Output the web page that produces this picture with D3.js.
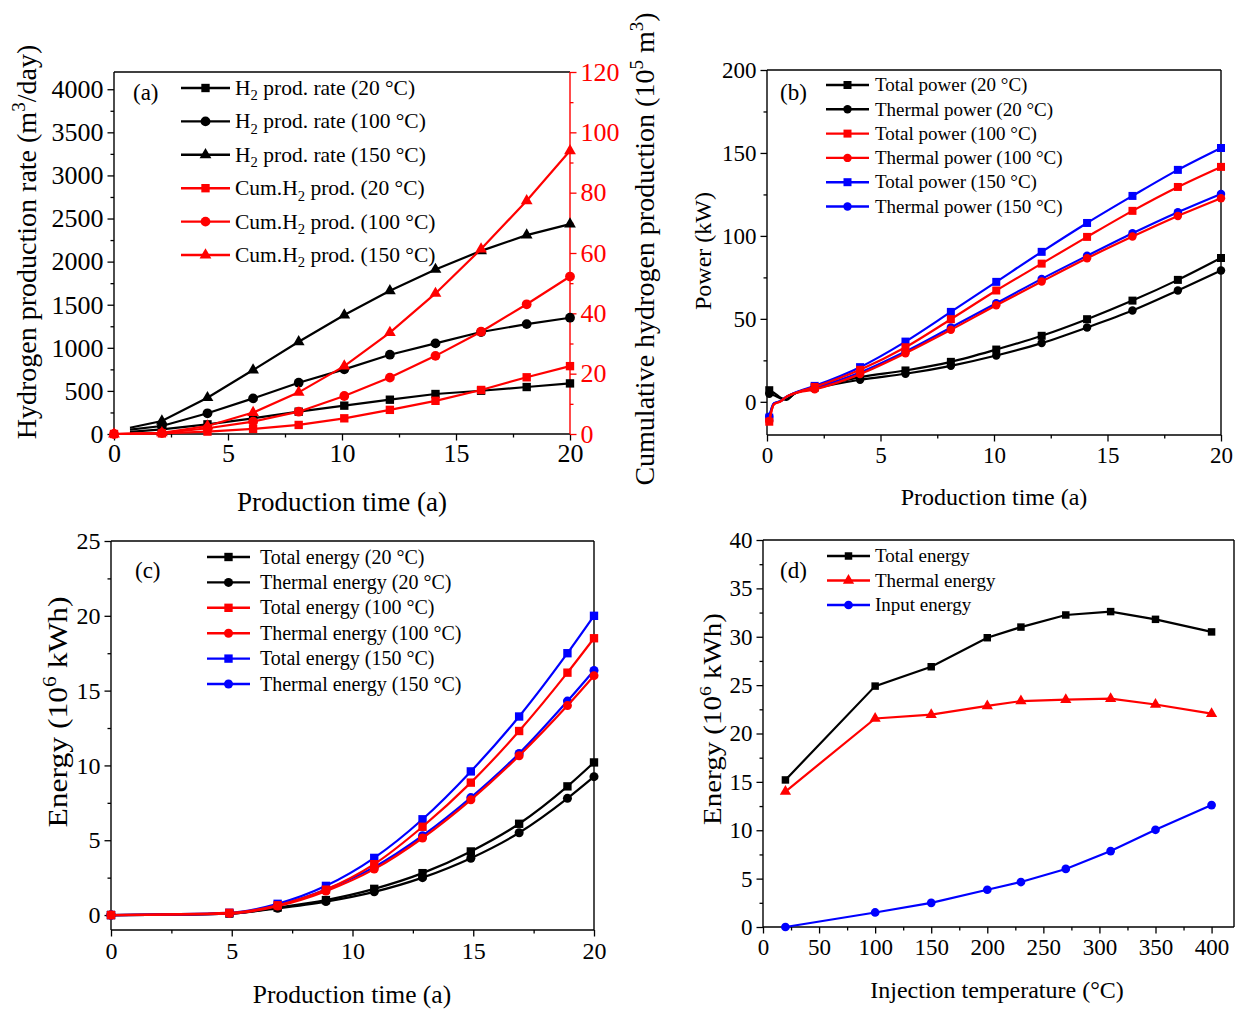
<!DOCTYPE html>
<html>
<head>
<meta charset="utf-8">
<script src="https://cdn.jsdelivr.net/npm/d3@7"></script>
<style>
  body { margin: 0; background: #fff; }
  text { font-family: "Liberation Serif", "Times New Roman", serif; }
</style>
</head>
<body>
<svg width="1240" height="1011"></svg>
<script>
// ---------- (a) H2 production ----------
const rateTimeA = [0.7, 2.1, 4.1, 6.1, 8.1, 10.1, 12.1, 14.1, 16.1, 18.1, 20];
const cumTimeA  = [0, 2.1, 4.1, 6.1, 8.1, 10.1, 12.1, 14.1, 16.1, 18.1, 20];
const rate20  = [25, 54, 112, 182, 259, 329, 398, 464, 502, 545, 587];
const rate100 = [50, 93, 240, 413, 595, 750, 920, 1051, 1183, 1275, 1349];
const rate150 = [73, 151, 421, 742, 1070, 1380, 1662, 1909, 2125, 2307, 2435];
const cum20  = [0, 0.2, 0.8, 1.7, 3.0, 5.2, 8.0, 11.0, 14.6, 18.8, 22.5];
const cum100 = [0, 0.3, 1.9, 4.1, 7.4, 12.6, 18.7, 25.9, 33.9, 43.0, 52.2];
const cum150 = [0, 0.4, 2.65, 7.1, 13.8, 22.5, 33.6, 46.6, 61.3, 77.3, 93.9];
const bareA = [0.7];   // points drawn without marker

// ---------- (b) power ----------
const timeB = [0.1, 0.3, 0.6, 0.85, 1.2, 2.1, 4.1, 6.1, 8.1, 10.1, 12.1, 14.1, 16.1, 18.1, 20];
const totalB20  = [7, 5.5, 2.5, 1.5, 4.8, 8.5, 14.9, 18.9, 24.1, 31.5, 39.8, 49.8, 61.0, 73.5, 86.7];
const thermB20  = [4.8, 4, 2, 1.2, 4.8, 8, 13.3, 16.9, 21.7, 27.9, 35.4, 44.8, 55.0, 67.1, 79.1];
const totalB100 = [-12, -1.5, 0.3, 3, 5.2, 9, 19.3, 32.9, 49.8, 67.1, 83.3, 99.4, 115.1, 129.5, 141.6];
const thermB100 = [-11.5, -1.5, 0.3, 3, 5, 7.5, 16.7, 29.3, 43.4, 58.2, 72.5, 86.5, 99.6, 112.0, 122.7];
const totalB150 = [-9.5, -1, 0.5, 3, 5.3, 9.6, 20.9, 36.3, 54.2, 72.3, 90.4, 107.8, 124.1, 139.8, 153.0];
const thermB150 = [-9, -1, 0.5, 3, 5.2, 8.5, 17.7, 30.3, 44.8, 59.4, 74.1, 88.0, 101.6, 114.3, 125.3];
const bareB = [0.3, 0.6, 0.85, 1.2];

// ---------- (c) energy vs time ----------
const timeC = [0, 4.9, 6.9, 8.9, 10.9, 12.9, 14.9, 16.9, 18.9, 20];
const totalC20  = [0, 0.1, 0.5, 1.0, 1.75, 2.8, 4.25, 6.1, 8.6, 10.2];
const thermC20  = [0, 0.1, 0.45, 0.9, 1.55, 2.5, 3.8, 5.5, 7.8, 9.25];
const totalC100 = [0, 0.15, 0.65, 1.7, 3.4, 5.9, 8.85, 12.3, 16.2, 18.5];
const thermC100 = [0, 0.1, 0.6, 1.6, 3.07, 5.15, 7.7, 10.65, 14.0, 16.0];
const totalC150 = [0, 0.15, 0.75, 1.95, 3.82, 6.4, 9.6, 13.27, 17.5, 20.0];
const thermC150 = [0, 0.1, 0.65, 1.7, 3.2, 5.3, 7.85, 10.8, 14.3, 16.35];

// ---------- (d) energy vs injection temperature ----------
const tempD    = [20, 100, 150, 200, 230, 270, 310, 350, 400];
const totalD   = [15.2, 24.9, 26.9, 29.9, 31.0, 32.25, 32.6, 31.8, 30.5];
const thermalD = [14.0, 21.55, 21.95, 22.85, 23.35, 23.5, 23.6, 23.0, 22.05];
const inputD   = [0, 1.5, 2.5, 3.85, 4.65, 6.0, 7.85, 10.05, 12.6];

const svg = d3.select("svg");
const shapes = { sq: d3.symbolSquare, ci: d3.symbolCircle, tr: d3.symbolTriangle };

// text with sub / superscripts: parts = [[str, kind], ...]
function richText(t, parts, fs) {
  let shift = 0;
  parts.forEach(([s, kind]) => {
    const target = kind === "sup" ? -0.4 * fs : kind === "sub" ? 0.25 * fs : 0;
    const ts = t.append("tspan").text(s).attr("dy", target - shift);
    if (kind) ts.attr("font-size", fs * 0.68);
    shift = target;
  });
}

function axis(orient, scale, pos, major, minor, fs, pad, color) {
  const make = { left: d3.axisLeft, right: d3.axisRight, bottom: d3.axisBottom }[orient];
  const tr = orient === "bottom" ? `translate(0,${pos})` : `translate(${pos},0)`;
  const gMin = svg.append("g").attr("transform", tr)
    .call(make(scale).tickValues(minor).tickSize(3.5).tickFormat(""));
  const gMaj = svg.append("g").attr("transform", tr)
    .call(make(scale).tickValues(major).tickSize(6.5).tickPadding(pad).tickFormat(d3.format("d")));
  [gMin, gMaj].forEach(g => {
    g.select(".domain").remove();
    g.selectAll("line").attr("stroke", color).attr("stroke-width", 1.3);
  });
  gMaj.selectAll("text").attr("font-size", fs).attr("fill", color)
    .attr("font-family", '"Liberation Serif", serif');
}

function frame(b, rightColor) {
  const seg = (x1, y1, x2, y2, c) => svg.append("line")
    .attr("x1", x1).attr("y1", y1).attr("x2", x2).attr("y2", y2)
    .attr("stroke", c).attr("stroke-width", 1.4);
  seg(b.l, b.t, b.r, b.t, "#000");
  seg(b.l, b.b, b.r, b.b, "#000");
  seg(b.l, b.t, b.l, b.b, "#000");
  seg(b.r, b.t, b.r, b.b, rightColor || "#000");
}

function series(x, y, xs, vals, s, curve, bare, sizes) {
  const pts = xs.map((t, i) => [t, vals[i]]);
  const line = d3.line().x(d => x(d[0])).y(d => y(d[1])).curve(curve);
  svg.append("path").attr("d", line(pts))
    .attr("fill", "none").attr("stroke", s.color).attr("stroke-width", 2.2);
  svg.append("g").selectAll("path")
    .data(pts.filter(p => !bare.includes(p[0])))
    .join("path")
    .attr("transform", p => `translate(${x(p[0])},${y(p[1])})`)
    .attr("d", d3.symbol(shapes[s.shape], sizes[s.shape]))
    .attr("fill", s.color);
}

function legend(items, x0, x1, xt, y0, step, fs, sizes) {
  items.forEach((s, i) => {
    const yy = y0 + i * step;
    svg.append("line").attr("x1", x0).attr("x2", x1).attr("y1", yy).attr("y2", yy)
      .attr("stroke", s.color).attr("stroke-width", 2.4);
    svg.append("path").attr("transform", `translate(${(x0 + x1) / 2},${yy})`)
      .attr("d", d3.symbol(shapes[s.shape], sizes[s.shape])).attr("fill", s.color);
    const t = svg.append("text").attr("x", xt).attr("y", yy + fs * 0.33).attr("font-size", fs);
    richText(t, s.label, fs);
  });
}

function title(x, y, parts, fs, rotate, len) {
  const t = svg.append("text").attr("font-size", fs).attr("text-anchor", "middle");
  if (rotate) t.attr("transform", `translate(${x},${y}) rotate(-90)`);
  else t.attr("x", x).attr("y", y);
  richText(t, parts, fs);
  if (len) t.attr("textLength", len).attr("lengthAdjust", "spacingAndGlyphs");
}

function tag(x, y, s, fs) {
  svg.append("text").attr("x", x).attr("y", y).attr("font-size", fs).text(s);
}

// ================= panel (a) =================
{
  const b = { l: 114, r: 570, t: 72, b: 434 };
  const x = d3.scaleLinear().domain([0, 20]).range([b.l, b.r]);
  const yL = d3.scaleLinear().domain([0, 4200]).range([b.b, b.t]);
  const yR = d3.scaleLinear().domain([0, 120]).range([b.b, b.t]);
  axis("bottom", x, b.b, [0, 5, 10, 15, 20], [2.5, 7.5, 12.5, 17.5], 26, 3, "#000");
  axis("left", yL, b.l, d3.range(0, 4001, 500), d3.range(250, 4000, 500), 26, 4, "#000");
  axis("right", yR, b.r, d3.range(0, 121, 20), d3.range(10, 120, 20), 26, 4, "#f00");
  frame(b, "#f00");
  const sizes = { sq: 70, ci: 75, tr: 60 };
  const items = [
    { label: [["H"], ["2", "sub"], [" prod. rate (20 °C)"]], xs: rateTimeA, v: rate20, color: "#000", shape: "sq", ax: yL },
    { label: [["H"], ["2", "sub"], [" prod. rate (100 °C)"]], xs: rateTimeA, v: rate100, color: "#000", shape: "ci", ax: yL },
    { label: [["H"], ["2", "sub"], [" prod. rate (150 °C)"]], xs: rateTimeA, v: rate150, color: "#000", shape: "tr", ax: yL },
    { label: [["Cum.H"], ["2", "sub"], [" prod. (20 °C)"]], xs: cumTimeA, v: cum20, color: "#f00", shape: "sq", ax: yR },
    { label: [["Cum.H"], ["2", "sub"], [" prod. (100 °C)"]], xs: cumTimeA, v: cum100, color: "#f00", shape: "ci", ax: yR },
    { label: [["Cum.H"], ["2", "sub"], [" prod. (150 °C)"]], xs: cumTimeA, v: cum150, color: "#f00", shape: "tr", ax: yR }
  ];
  items.forEach(s => series(x, s.ax, s.xs, s.v, s, d3.curveLinear, bareA, sizes));
  legend(items, 181, 230, 235, 88, 33.4, 21.5, sizes);
  tag(133, 100, "(a)", 23);
  title(342, 511, [["Production time (a)"]], 27);
  title(36, 242, [["Hydrogen production rate (m"], ["3", "sup"], ["/day)"]], 28, true);
  title(654, 249, [["Cumulative hydrogen production (10"], ["5", "sup"], [" m"], ["3", "sup"], [")"]], 28, true);
}

// ================= panel (b) =================
{
  const b = { l: 767, r: 1221, t: 70, b: 435 };
  const x = d3.scaleLinear().domain([0, 20]).range([b.l, b.r]);
  const y = d3.scaleLinear().domain([-20, 200]).range([b.b, b.t]);
  axis("bottom", x, b.b, [0, 5, 10, 15, 20], [2.5, 7.5, 12.5, 17.5], 23, 5, "#000");
  axis("left", y, b.l, d3.range(0, 201, 50), d3.range(25, 200, 50), 23, 4, "#000");
  frame(b);
  const sizes = { sq: 64, ci: 56, tr: 55 };
  const items = [
    { label: [["Total power (20 °C)"]], v: totalB20, color: "#000", shape: "sq" },
    { label: [["Thermal power (20 °C)"]], v: thermB20, color: "#000", shape: "ci" },
    { label: [["Total power (100 °C)"]], v: totalB100, color: "#f00", shape: "sq" },
    { label: [["Thermal power (100 °C)"]], v: thermB100, color: "#f00", shape: "ci" },
    { label: [["Total power (150 °C)"]], v: totalB150, color: "#00f", shape: "sq" },
    { label: [["Thermal power (150 °C)"]], v: thermB150, color: "#00f", shape: "ci" }
  ];
  [0, 1, 4, 5, 2, 3].forEach(i => series(x, y, timeB, items[i].v, items[i], d3.curveMonotoneX, bareB, sizes));
  legend(items, 826, 869, 875, 85, 24.3, 19, sizes);
  tag(780, 100, "(b)", 23);
  title(994, 505, [["Production time (a)"]], 24);
  title(711, 251, [["Power (kW)"]], 24, true);
}

// ================= panel (c) =================
{
  const b = { l: 111, r: 594, t: 541, b: 930 };
  const x = d3.scaleLinear().domain([0, 20]).range([b.l, b.r]);
  const y = d3.scaleLinear().domain([-1, 25]).range([b.b, b.t]);
  axis("bottom", x, b.b, [0, 5, 10, 15, 20], [2.5, 7.5, 12.5, 17.5], 24, 5, "#000");
  axis("left", y, b.l, d3.range(0, 26, 5), d3.range(2.5, 25, 5), 24, 4, "#000");
  frame(b);
  const sizes = { sq: 70, ci: 64, tr: 55 };
  const items = [
    { label: [["Total energy (20 °C)"]], v: totalC20, color: "#000", shape: "sq" },
    { label: [["Thermal energy (20 °C)"]], v: thermC20, color: "#000", shape: "ci" },
    { label: [["Total energy (100 °C)"]], v: totalC100, color: "#f00", shape: "sq" },
    { label: [["Thermal energy (100 °C)"]], v: thermC100, color: "#f00", shape: "ci" },
    { label: [["Total energy (150 °C)"]], v: totalC150, color: "#00f", shape: "sq" },
    { label: [["Thermal energy (150 °C)"]], v: thermC150, color: "#00f", shape: "ci" }
  ];
  [0, 1, 4, 5, 2, 3].forEach(i => series(x, y, timeC, items[i].v, items[i], d3.curveMonotoneX, [], sizes));
  legend(items, 207, 250, 260, 557, 25.4, 20, sizes);
  tag(135, 578, "(c)", 23);
  title(352, 1003, [["Production time (a)"]], 25.5);
  title(67, 712, [["Energy (10"], ["6", "sup"], [" kWh)"]], 27, true, 231);
}

// ================= panel (d) =================
{
  const b = { l: 763, r: 1234, t: 540, b: 927 };
  const x = d3.scaleLinear().domain([0, 420]).range([b.l, b.r]);
  const y = d3.scaleLinear().domain([0, 40]).range([b.b, b.t]);
  axis("bottom", x, b.b, d3.range(0, 401, 50), d3.range(25, 400, 50), 23, 5, "#000");
  axis("left", y, b.l, d3.range(0, 41, 5), d3.range(2.5, 40, 5), 23, 4, "#000");
  frame(b);
  const sizes = { sq: 56, ci: 60, tr: 55 };
  const items = [
    { label: [["Total energy"]], v: totalD, color: "#000", shape: "sq" },
    { label: [["Thermal energy"]], v: thermalD, color: "#f00", shape: "tr" },
    { label: [["Input energy"]], v: inputD, color: "#00f", shape: "ci" }
  ];
  items.forEach(s => series(x, y, tempD, s.v, s, d3.curveLinear, [], sizes));
  legend(items, 827, 870, 875, 556, 24.5, 19, sizes);
  tag(780, 578, "(d)", 23);
  title(997, 998, [["Injection temperature (°C)"]], 24);
  title(721, 719, [["Energy (10"], ["6", "sup"], [" kWh)"]], 26, true, 212);
}
</script>
</body>
</html>
